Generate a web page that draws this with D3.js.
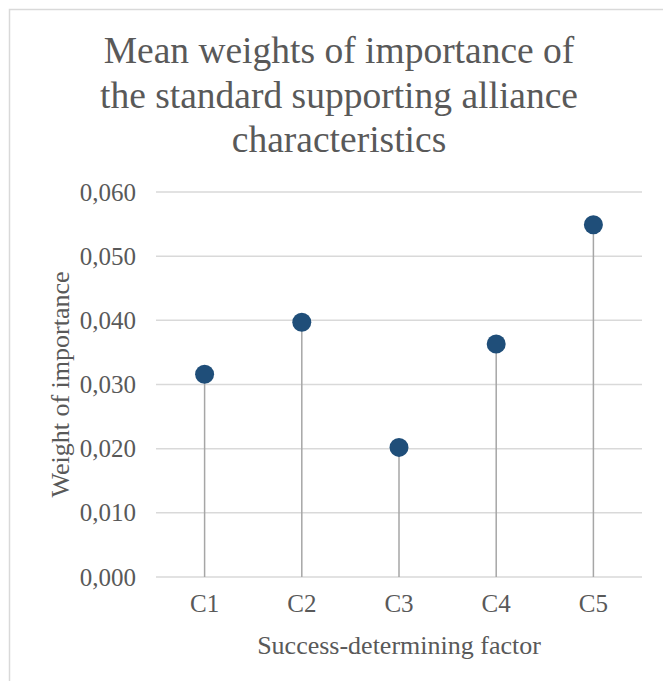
<!DOCTYPE html>
<html>
<head>
<meta charset="utf-8">
<script src="https://cdn.jsdelivr.net/npm/d3@7"></script>
<style>
  html, body { margin: 0; padding: 0; background: #fff; }
  svg text { font-family: "Liberation Serif", "Times New Roman", serif; fill: #595959; }
</style>
</head>
<body>
<div id="chart"></div>
<script>
// Chart data
const categories = ['C1', 'C2', 'C3', 'C4', 'C5'];
const weights = [0.0316, 0.0397, 0.0202, 0.0363, 0.0549];
const yTicks = [0, 0.01, 0.02, 0.03, 0.04, 0.05, 0.06];
const titleLines = ['Mean weights of importance of', 'the standard supporting alliance', 'characteristics'];

const width = 663;
const height = 681;
const margin = { top: 192, right: 21, bottom: 104, left: 156 };
const innerW = width - margin.left - margin.right;
const innerH = height - margin.top - margin.bottom;
const serif = '"Liberation Serif", "Times New Roman", serif';

const svg = d3.select('#chart').append('svg')
  .attr('width', width)
  .attr('height', height)
  .style('font-family', serif);

// Chart area border
svg.append('rect')
  .attr('x', 9.5).attr('y', 9.5)
  .attr('width', width + 20).attr('height', height + 20)
  .attr('fill', 'none')
  .attr('stroke', '#d9d9d9')
  .attr('stroke-width', 1.5);

// Title
svg.append('text')
  .attr('text-anchor', 'middle')
  .style('font-family', serif)
  .style('font-size', '37.5px')
  .selectAll('tspan')
  .data(titleLines)
  .join('tspan')
  .attr('x', 339)
  .attr('y', (d, i) => 63 + i * 44.5)
  .text(d => d);

const g = svg.append('g')
  .attr('transform', `translate(${margin.left},${margin.top})`);

const x = d3.scaleBand()
  .domain(categories)
  .range([0, innerW])
  .padding(0);

const y = d3.scaleLinear()
  .domain([0, 0.06])
  .range([innerH, 0]);

const fmt = v => d3.format('.3f')(v).replace('.', ',');

// Grid lines
g.append('g')
  .attr('class', 'grid')
  .selectAll('line')
  .data(yTicks)
  .join('line')
  .attr('x1', 0)
  .attr('x2', innerW)
  .attr('y1', d => y(d))
  .attr('y2', d => y(d))
  .attr('stroke', '#d9d9d9')
  .attr('stroke-width', 1.5);

// Y axis labels
const yAxis = d3.axisLeft(y).tickValues(yTicks).tickFormat(fmt).tickSize(0).tickPadding(20);
g.append('g')
  .attr('class', 'y-axis')
  .call(yAxis)
  .attr('font-family', serif)
  .call(s => s.select('.domain').remove())
  .selectAll('text')
  .style('font-size', '25px')
  .attr('fill', '#595959');

// X axis labels
const xAxis = d3.axisBottom(x).tickSize(0).tickPadding(17);
g.append('g')
  .attr('class', 'x-axis')
  .attr('transform', `translate(0,${innerH})`)
  .call(xAxis)
  .attr('font-family', serif)
  .call(s => s.select('.domain').remove())
  .selectAll('text')
  .style('font-size', '25px')
  .attr('fill', '#595959');

// Stems
const cx = d => x(d) + x.bandwidth() / 2;
g.append('g')
  .attr('class', 'stems')
  .selectAll('line')
  .data(categories)
  .join('line')
  .attr('x1', d => cx(d))
  .attr('x2', d => cx(d))
  .attr('y1', innerH)
  .attr('y2', (d, i) => y(weights[i]))
  .attr('stroke', '#a6a6a6')
  .attr('stroke-width', 1.5);

// Dots
g.append('g')
  .attr('class', 'dots')
  .selectAll('circle')
  .data(categories)
  .join('circle')
  .attr('cx', d => cx(d))
  .attr('cy', (d, i) => y(weights[i]))
  .attr('r', 9.5)
  .attr('fill', '#1f4e79');

// Axis titles
svg.append('text')
  .attr('text-anchor', 'middle')
  .attr('x', margin.left + innerW / 2)
  .attr('y', 654)
  .style('font-size', '26px')
  .text('Success-determining factor');

svg.append('text')
  .attr('text-anchor', 'middle')
  .attr('transform', `translate(69,${margin.top + innerH / 2}) rotate(-90)`)
  .style('font-size', '26px')
  .text('Weight of importance');
</script>
</body>
</html>
